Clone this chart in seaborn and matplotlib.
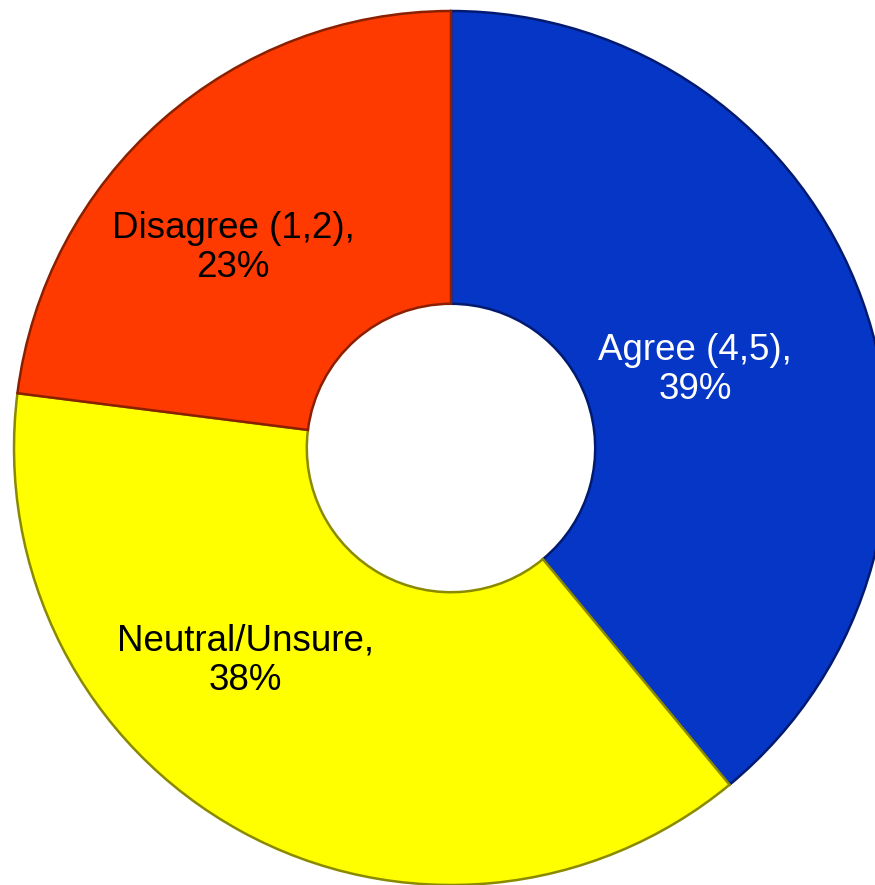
import matplotlib
matplotlib.use("Agg")
import matplotlib.pyplot as plt
import seaborn as sns

# Survey response shares
categories = ["Agree (4,5)", "Neutral/Unsure", "Disagree (1,2)"]
shares = [39, 38, 23]
colors = ["#0536C6", "#FFFF00", "#FF3A00"]
edge_colors = ["#021a70", "#8a8a00", "#8a2000"]
text_colors = ["white", "black", "black"]

sns.set_theme(style="white")
plt.rcParams['font.family'] = ['Liberation Sans', 'DejaVu Sans']

fig = plt.figure(figsize=(8.75, 8.85), dpi=100)
ax = fig.add_axes([0, 0, 1, 1])

R = 437
wedges, _ = ax.pie(shares, radius=R, startangle=90, counterclock=False,
                   colors=colors,
                   wedgeprops=dict(width=R * 0.67, linewidth=1.8))
for w, ec in zip(wedges, edge_colors):
    w.set_edgecolor(ec)

# label positions (pixel-like units from donut center)
label_pos = [(244, 78), (-206, -213), (-218, 200)]
for cat, s, (x, y), tc in zip(categories, shares, label_pos, text_colors):
    ax.text(x, y, f"{cat},\n{s}%", ha="center", va="center",
            fontsize=26.5, color=tc, linespacing=1.16)

ax.set_xlim(-451, 424)
ax.set_ylim(-437, 448)
ax.set_aspect("equal")
ax.axis("off")

fig.savefig("out.png", dpi=100, facecolor="white")
